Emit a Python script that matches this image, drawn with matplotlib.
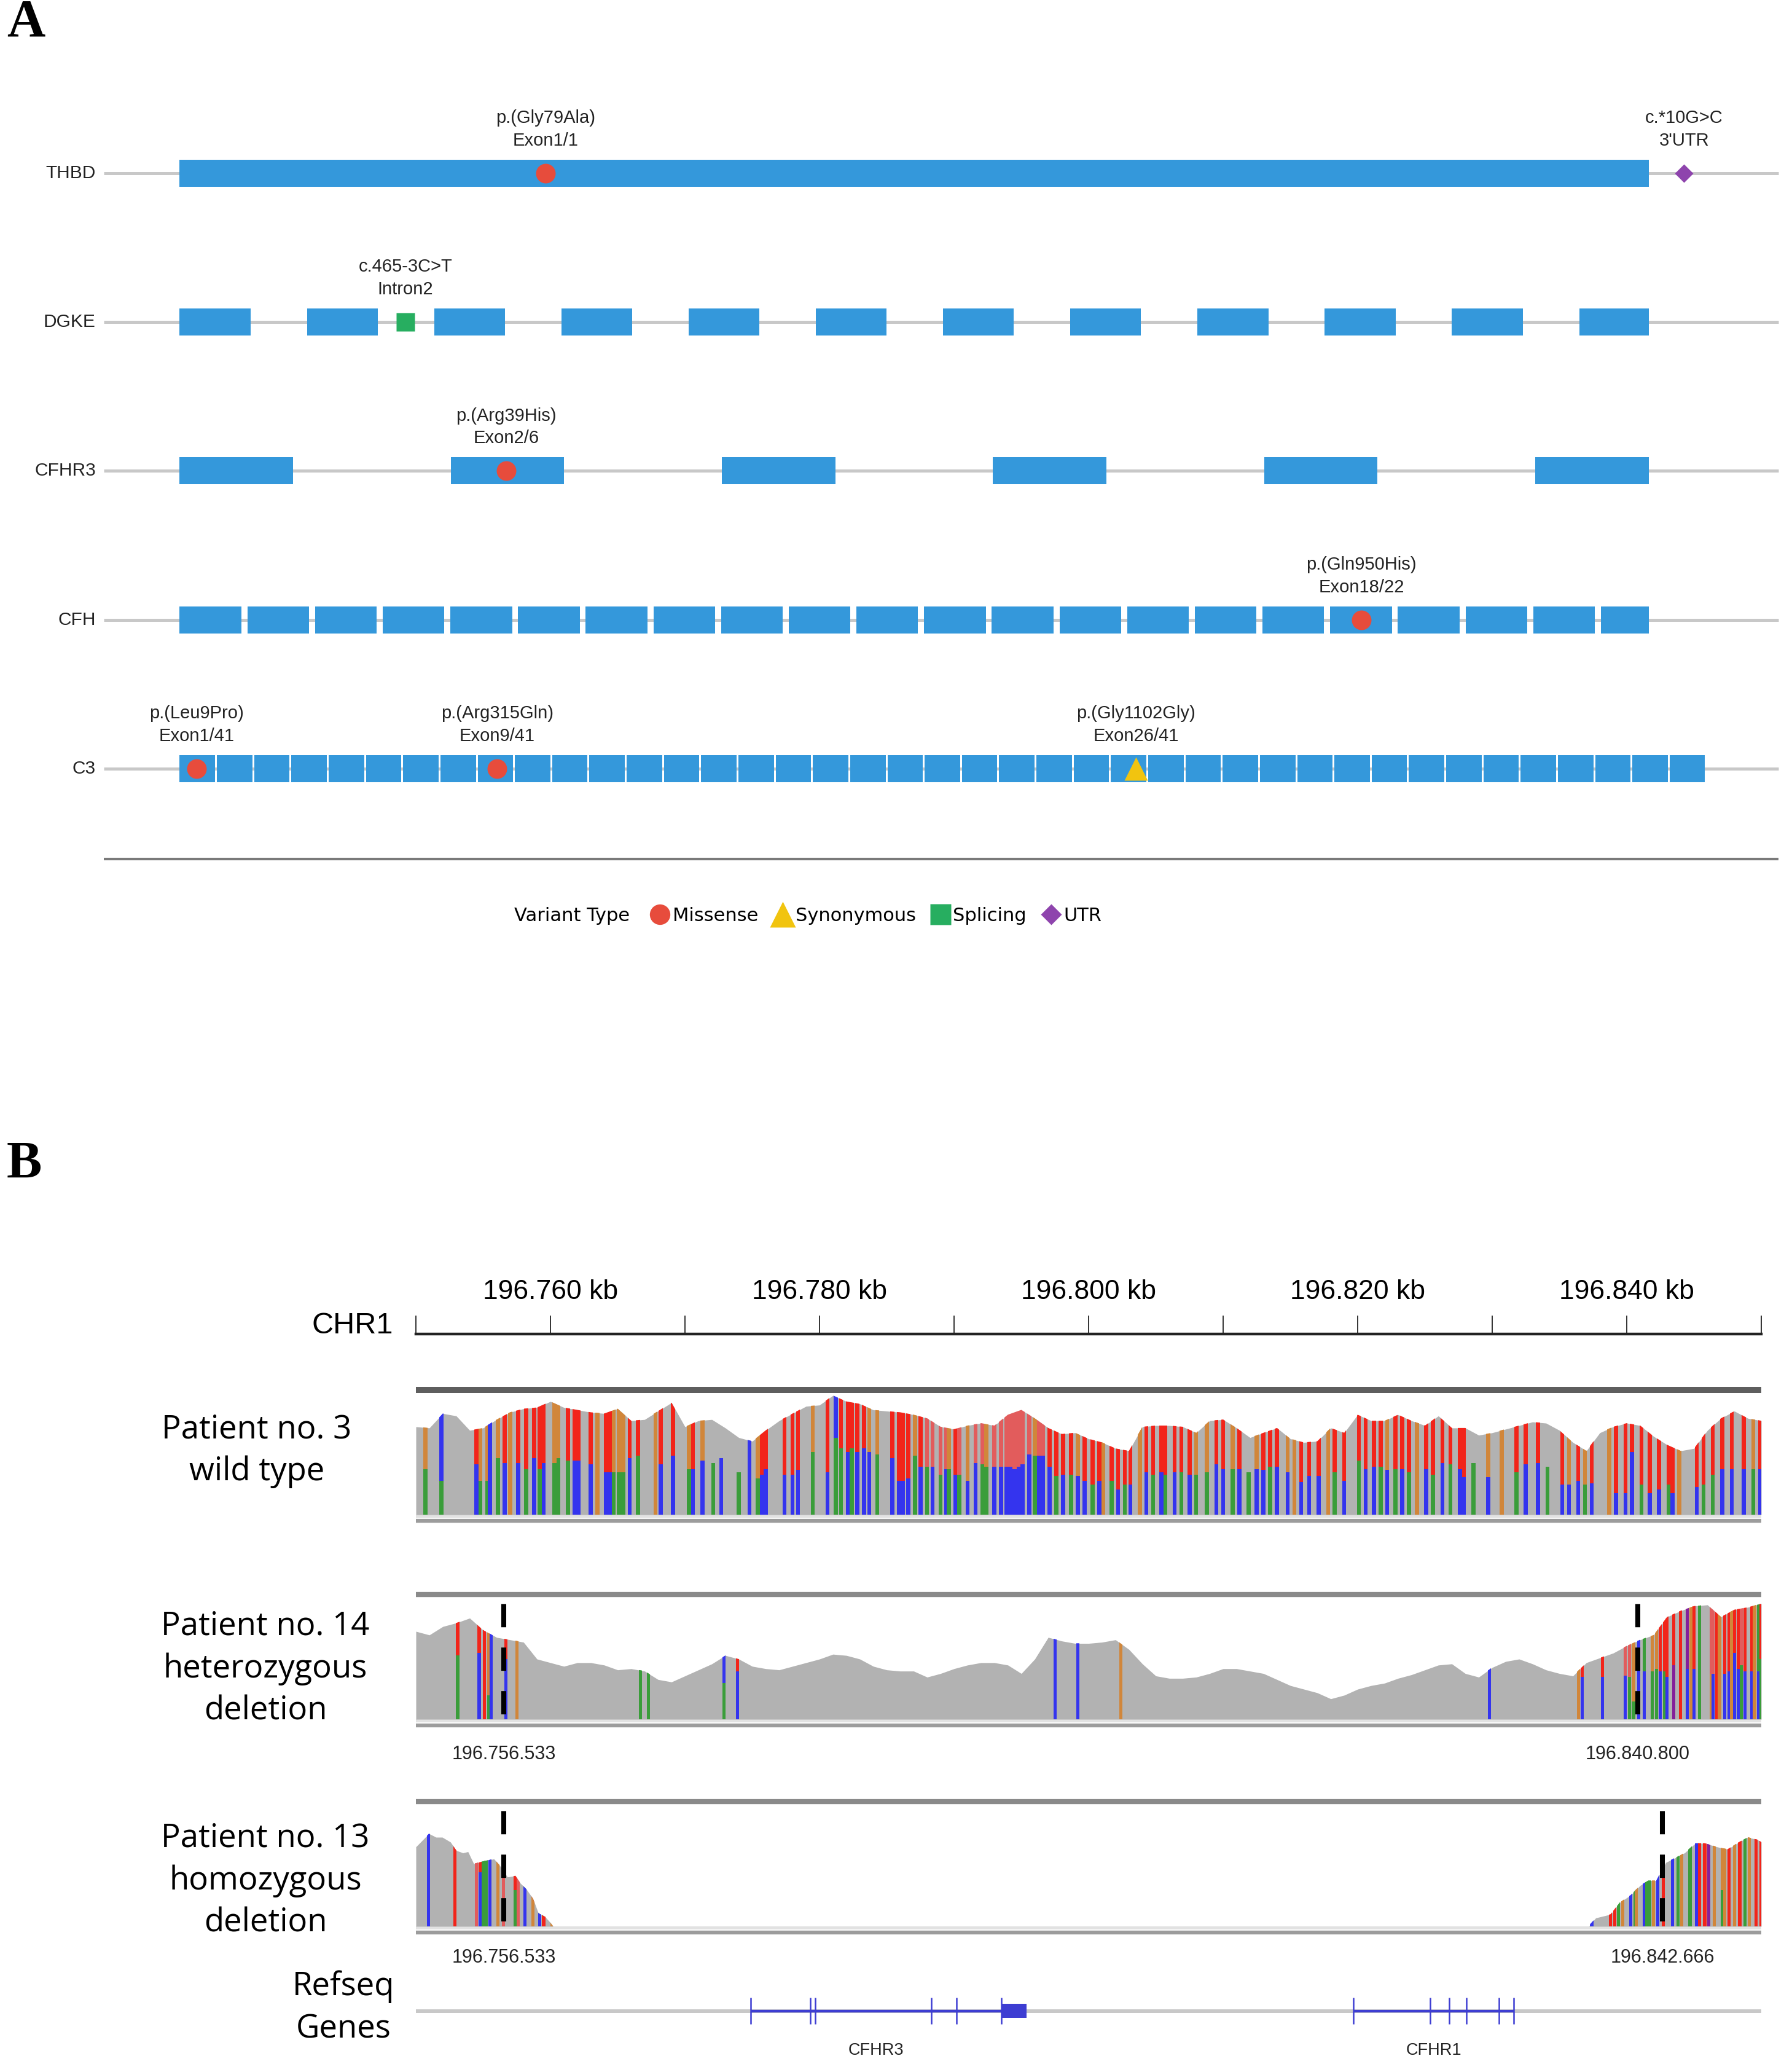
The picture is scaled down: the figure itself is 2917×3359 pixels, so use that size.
import numpy as np
import matplotlib
matplotlib.use("Agg")
import matplotlib.pyplot as plt
from matplotlib.lines import Line2D

W, H = 2917, 3359

# ---------------- panel A: gene schematics ----------------
genes = ["THBD", "DGKE", "CFHR3", "CFH", "C3"]
exon_counts = [1, 12, 6, 22, 41]
exon_pitch = [1120, 97.0, 206.7, 51.6, 28.4]
exon_len = [1120, 54, 86.5, 47, 27]
gene_len = [1120, 1120, 1120, 1120, 1163]

var_gene = ["THBD", "THBD", "DGKE", "CFHR3", "CFH", "C3", "C3", "C3"]
var_pos = [279, 1147, 172, 249, 901, 13, 242, 729]
var_type = ["Missense", "UTR", "Splicing", "Missense", "Missense",
            "Missense", "Missense", "Synonymous"]
var_label = ["p.(Gly79Ala)\nExon1/1", "c.*10G>C\n3'UTR", "c.465-3C>T\nIntron2",
             "p.(Arg39His)\nExon2/6", "p.(Gln950His)\nExon18/22",
             "p.(Leu9Pro)\nExon1/41", "p.(Arg315Gln)\nExon9/41",
             "p.(Gly1102Gly)\nExon26/41"]
legend_types = ["Missense", "Synonymous", "Splicing", "UTR"]

# ---------------- panel B: coverage tracks ----------------
START, END = 196750, 196850     # kb
axis_labels_kb = [196760, 196780, 196800, 196820, 196840]
axis_minor_kb = [196750, 196770, 196790, 196810, 196830, 196850]

wt_cov = [.73, .72, .84, .82, .70, .72, .79, .85, .88, .89,
          .94, .89, .87, .85, .84, .88, .78, .79, .86, .93,
          .73, .78, .79, .72, .64, .61, .70, .78, .84, .90,
          .91, .99, .94, .92, .87, .86, .85, .83, .80, .73,
          .71, .74, .76, .74, .83, .87, .80, .72, .67, .68,
          .63, .60, .55, .53, .73, .74, .74, .73, .68, .78,
          .79, .72, .64, .68, .72, .63, .60, .61, .72, .68,
          .83, .78, .78, .83, .78, .74, .82, .72, .72, .66,
          .68, .71, .74, .77, .76, .70, .60, .53, .68, .73,
          .76, .74, .65, .58, .53, .55, .70, .80, .86, .80, .78]

wt_var_kb = [0.7, 1.9, 4.5, 4.8, 5.3, 5.5, 6.1, 6.6, 7.0, 7.6,
             8.2, 8.8, 9.2, 9.5, 10.3, 10.6, 11.3, 11.8, 12.1, 13.0,
             13.5, 14.1, 14.4, 14.7, 15.1, 15.4, 15.9, 16.5, 17.8, 18.2,
             19.1, 20.3, 20.6, 21.3, 22.1, 22.7, 24.0, 24.8, 25.4, 25.7,
             26.0, 27.4, 28.0, 28.4, 29.5, 30.6, 31.2, 31.6, 32.1, 32.4,
             32.8, 33.3, 33.7, 34.3, 35.4, 35.9, 36.2, 36.6, 37.1, 37.5,
             38.0, 38.4, 39.0, 39.4, 39.6, 40.1, 40.4, 41.0, 41.6, 42.1,
             42.4, 43.0, 43.5, 43.9, 44.2, 44.5, 44.8, 45.1, 45.6, 46.0,
             46.3, 46.6,
             47.1, 47.6, 48.1, 48.7, 49.2, 49.7, 50.3, 50.8, 51.1, 51.7,
             52.2, 52.7, 53.1, 53.8, 54.3, 54.8, 55.4, 55.7, 56.4, 56.9,
             57.5, 58.0, 58.8, 59.5, 60.0, 60.7, 61.2, 61.9, 62.5, 63.0,
             63.5, 64.0, 64.8, 65.3, 65.8, 66.4, 67.1, 67.8, 68.3, 69.0,
             70.1, 70.6, 71.2, 71.7, 72.2, 72.8, 73.3, 73.8, 74.4, 75.1,
             75.6, 76.3, 76.9, 77.6, 77.9, 78.6, 79.7, 80.7, 81.8, 82.5,
             83.4, 84.1, 85.2, 85.7, 86.4, 86.9, 87.4, 88.7, 89.2, 89.9,
             90.4, 91.1, 91.7, 92.4, 93.1, 93.4, 93.9, 95.2, 95.7, 96.4,
             97.1, 97.8, 98.7, 99.4, 99.9]
wt_low = ("AACAACACGC" "ACACAAACCC" "GCCAAACAGC" "CACCACACAC" "CCCCACAACA"
          "CCCACCCCAC" "ACACACACCA" "ACCCCCCCCA" "CC"
          "CACACCACGA" "CACGCACACA" "CAACCACACC" "ACCGCCCGAC" "ACCACACAGC"
          "ACACCACGAC" "CACCCACGCC" "CACCACGCAA" "CCCAC")
wt_high = ("GCTGGCGTGT" "TTTTGGTTTT" "GTTGGGTTGT" "TGTGNNNCGT" "TTTTGTCTTT"
           "TTGGTTTTGT" "ttttGTtGtt" "GttttttttG" "tt"
           "TTTTGTTTGT" "TTTGTTTTTT" "TGGTTGTNGT" "TTGGTTTGTT" "TTTTGTTTGT"
           "TTTTTNGGTT" "TNTGTGTGTT" "TTTTTTGTTT" "TTTGT")
wt_split = [.38, .28, .42, .28, .28, 1.0, .47, .43, 1.0, .43,
            .38, .47, .38, .43, .43, .47, .45, .45, .45, .42,
            1.0, .35, .35, .35, .35, .35, .47, .49, 1.0, .42,
            .49, .38, .38, .45, .43, .47, .35, 1.0, .30, .33,
            .38, .33, .33, .37, .52, .35, .64, .55, .52, .55,
            .52, .55, .52, .50, .47, .28, .28, .30, .49, .40,
            .40, .40, .33, .38, .38, .33, .33, .28, .43, .42,
            .40, .40, .40, .40, .40, .38, .40, .42, .50, .49,
            .49, .49,
            .40, .32, .33, .33, .32, .28, .25, .28, 1.0, .28,
            .21, .25, .25, 1.0, .35, .33, .35, .33, .35, .35,
            .33, .33, .35, .42, .38, .38, .38, .35, .38, .37,
            .40, .40, .35, 1.0, .27, .32, .32, 1.0, .35, .28,
            .45, .38, .40, .40, .37, .38, .38, .35, 1.0, .38,
            .33, .43, .42, .38, .31, .43, .31, 1.0, .35, .42,
            .43, .40, .25, .25, .28, .25, .26, 1.0, .18, .18,
            .52, .25, .18, .21, .25, .18, 1.0, .23, .25, .33,
            .38, .38, .38, .38, .38]

p14_cov = [.73, .70, .77, .80, .84, .74, .68, .66, .64, .50,
           .47, .44, .47, .47, .45, .41, .42, .40, .33, .31,
           .36, .41, .46, .53, .50, .44, .42, .41, .44, .47,
           .50, .54, .53, .50, .44, .41, .40, .40, .35, .38,
           .42, .45, .47, .47, .45, .38, .50, .68, .65, .63,
           .63, .64, .66, .58, .46, .36, .34, .34, .35, .38,
           .42, .42, .40, .38, .33, .28, .25, .22, .17, .20,
           .25, .28, .30, .34, .37, .41, .45, .46, .38, .35,
           .43, .48, .50, .46, .41, .38, .36, .47, .51, .55,
           .61, .66, .70, .85, .90, .94, .95, .85, .91, .93, .96]
p14_var_kb = [3.1, 4.7, 5.1, 5.4, 5.6, 6.7, 7.5, 16.7, 17.3, 22.9,
              23.9, 47.5, 49.2, 52.4, 79.8, 86.4, 86.7, 88.2, 89.9, 90.2,
              90.5, 90.9, 91.3, 91.9, 92.2, 92.5, 92.8, 93.0, 93.5, 94.0,
              94.5, 94.8, 95.0, 95.4, 96.3, 96.4, 96.7, 96.9, 97.3, 97.6,
              97.8, 98.0, 98.3, 98.5, 98.8, 99.3, 99.5, 99.8, 100.0]
p14_low = "ACTACCGAAACCCGCGCCCAACCAACACPTCGCAGCTGCCGCCACCGCA"
p14_high = "TTTGCTGAACTCCGCGTTttGCAGGTTTTTPGTAttTGTTGTTtTTGAT"
p14_split = [.53, .55, 1.0, .20, 1.0, .50, 1.0, 1.0, 1.0, .30,
             .40, 1.0, 1.0, 1.0, 1.0, 1.0, .35, .35, .36, .35,
             .15, 1.0, .40, .40, .42, .40, .40, .35, .45, 1.0,
             .42, 1.0, .42, 1.0, .38, .38, 1.0, 1.0, .38, .40,
             1.0, .55, .42, .45, .40, .40, 1.0, .40, .50]

p13_cov_kb = [0, 0.44, 0.97, 1.5, 1.96, 2.57, 3.0, 3.5, 3.87, 4.3, 5.0, 5.8,
              6.2, 6.8, 7.4, 7.75, 8.2, 8.7, 9.1, 9.6, 10.0, 10.2,
              87.2, 87.3, 87.7, 88.8, 89.5, 90.3, 91.0, 91.6, 92.2, 92.9,
              93.8, 94.3, 95.1, 95.8, 96.7, 97.5, 98.2, 99.0, 99.7, 100.0]
p13_cov = [.66, .71, .77, .74, .74, .70, .63, .61, .62, .52, .54, .56,
           .51, .41, .42, .36, .31, .23, .11, .08, .03, 0.0,
           0.0, .02, .07, .10, .20, .26, .34, .38, .38, .53,
           .58, .61, .69, .69, .66, .64, .69, .74, .72, .70]
p13_var_kb = [0.94, 2.9, 4.5, 4.8, 5.0, 5.2, 5.5, 6.1, 6.5, 7.37,
              7.6, 8.1, 8.7, 9.2, 9.5, 10.1, 87.4, 88.8, 89.1, 89.4,
              89.7, 90.3, 90.6, 90.7, 91.3, 91.5, 91.7, 92.0, 92.3, 92.7,
              93.4, 93.8, 94.1, 94.7, 95.2, 95.4, 95.8, 96.1, 96.5, 97.1,
              97.3, 97.6, 98.0, 98.4, 98.8, 99.1, 99.6, 100.0]
p13_low = "CTtCAACGtAtCGCTGCTTAGCAGCAAGCTCAGACTTPGAGTGTAGTT"
p13_high = "CTtTAACGtTtATAAGCTTAGCAGCAAGCTCAGACTTPGGGTGTAGTT"
p13_split = [.33, 1, 1, .45, 1, 1, 1, 1, 1, .30,
             1, .50, .50, .50, .50, 1, 1, 1, 1, 1,
             1, 1, 1, 1, 1, 1, 1, 1, 1, 1,
             1, 1, 1, 1, 1, 1, 1, 1, 1, .30,
             1, 1, 1, 1, 1, 1, 1, 1]

p14_breaks = [196756.533, 196840.800]
p13_breaks = [196756.533, 196842.666]

cfhr3_exons = [196774.9, 196779.3, 196779.7, 196788.3, 196790.2, 196793.5]
cfhr3_utr = (196793.5, 196795.4)
cfhr1_exons = [196819.7, 196825.4, 196826.8, 196828.1, 196830.5, 196831.6]

# ---------------- styles ----------------
SANS = ["Liberation Sans", "DejaVu Sans"]
EXON_BLUE = "#3498db"
VSTYLE = {"Missense": ("o", "#e74c3c", 23),
          "Synonymous": ("^", "#f1c40f", 28),
          "Splicing": ("s", "#27ae60", 21),
          "UTR": ("D", "#8e44ad", 15)}
BASE = {"A": "#3a9d3a", "C": "#3434ee", "G": "#d1863a", "T": "#f2241a",
        "t": "#e25c5c", "P": "#85209a"}
COV_GREY = "#b2b2b2"


def px_rect(x0, y0, x1, y1):
    return [x0 / W, 1 - y1 / H, (x1 - x0) / W, (y1 - y0) / H]


fig = plt.figure(figsize=(W / 100, H / 100), dpi=100)
fig.patch.set_facecolor("white")

# ======================= Panel A =======================
ROW0, ROWSTEP = 282, 242.25
ax_a = fig.add_axes(px_rect(0, 0, W, 1600))
ax_a.set_xlim(-137, W / 2.135 - 137)
ax_a.set_ylim((1600 - ROW0) / ROWSTEP, -ROW0 / ROWSTEP)
ax_a.axis("off")

exon_h = 44 / ROWSTEP
for i, g in enumerate(genes):
    ax_a.hlines(i, -58, 1219, color="#c8c8c8", lw=3.6, zorder=1)
    bars = []
    for k in range(exon_counts[i]):
        s = k * exon_pitch[i]
        bars.append((s, min(exon_len[i], gene_len[i] - s)))
    ax_a.broken_barh(bars, (i - exon_h / 2, exon_h), facecolor=EXON_BLUE,
                     edgecolor="none", zorder=2)
    ax_a.text(-64, i, g, ha="right", va="center", fontsize=21.5,
              family=SANS, color="#222222")

for g, x, t, lab in zip(var_gene, var_pos, var_type, var_label):
    row = genes.index(g)
    m, c, ms = VSTYLE[t]
    ax_a.plot(x, row, marker=m, color=c, ms=ms, mec="none", zorder=5)
    ax_a.annotate(lab, xy=(x, row), xytext=(0, 51.5), textcoords="offset points",
                  ha="center", va="center", fontsize=21, family=SANS,
                  linespacing=1.4, color="#222222")

ax_a.hlines((1398 - ROW0) / ROWSTEP, -58, 1219, color="#7a7a7a", lw=3)

fig.text(837 / W, 1 - 1490 / H, "Variant Type", ha="left", va="center",
         fontsize=22, family="DejaVu Sans")
leg_sizes = {"Missense": 24, "Synonymous": 30, "Splicing": 24, "UTR": 17}
handles = [Line2D([], [], ls="none", marker=VSTYLE[t][0], color=VSTYLE[t][1],
                  mec="none", ms=leg_sizes[t]) for t in legend_types]
fig.legend(handles, legend_types, loc="center left",
           bbox_to_anchor=(1059 / W, 1 - 1490 / H), ncol=4, frameon=False,
           borderpad=0, borderaxespad=0, handlelength=1.0, handletextpad=0.18,
           columnspacing=0.8, prop={"family": "DejaVu Sans", "size": 22})

fig.text(11 / W, 1 - 38 / H, "A", fontsize=62, fontweight="bold",
         family=["Liberation Serif", "DejaVu Serif"], va="center", ha="left")
fig.text(11 / W, 1 - 1896 / H, "B", fontsize=62, fontweight="bold",
         family=["Liberation Serif", "DejaVu Serif"], va="center", ha="left")

# ======================= Panel B =======================
X0, X1 = 677, 2867
UNIT = 196

# genomic axis
ax_ax = fig.add_axes(px_rect(X0, 2141, X1, 2171))
ax_ax.set_xlim(START, END)
ax_ax.set_ylim(0, 1)
for s in ["left", "right", "top"]:
    ax_ax.spines[s].set_visible(False)
ax_ax.spines["bottom"].set_linewidth(3.2)
ax_ax.spines["bottom"].set_color("#222222")
ax_ax.set_yticks([])
ax_ax.set_xticks(axis_labels_kb, labels=[f"{v / 1000:.3f} kb" for v in axis_labels_kb],
                 fontfamily=SANS, fontsize=32)
ax_ax.set_xticks(axis_minor_kb, minor=True)
ax_ax.tick_params(axis="x", which="both", direction="in", length=21.6, width=1.4,
                  color="#333333", bottom=True, top=False, labelbottom=False,
                  labeltop=True, pad=13)
ax_ax.patch.set_alpha(0)
fig.text(640 / W, 1 - 2158 / H, "CHR1", ha="right", va="center", fontsize=35,
         family=SANS)


def draw_track(base, cov_kb, cov, var_kb, low, split, high, width,
               bar_col, bar_lw, breaks=None, label_dy=None):
    ax = fig.add_axes(px_rect(X0, base - 1.1 * UNIT, X1, base + 0.1 * UNIT))
    ax.set_xlim(START, END)
    ax.set_ylim(-0.1, 1.1)
    ax.axis("off")
    poly = ax.fill_between(START + np.asarray(cov_kb, float), cov,
                           color=COV_GREY, lw=0, zorder=2)
    clip = poly.get_paths()[0]
    for kb, lo, sp, hi in zip(var_kb, low, split, high):
        x = START + kb
        parts = []
        if hi != "N":
            parts += list(ax.bar(x, 1.0, width, color=BASE[hi], lw=0, zorder=3))
        parts += list(ax.bar(x, sp, width, color=BASE[lo], lw=0, zorder=3))
        for p in parts:
            p.set_clip_path(clip, ax.transData)
    ax.axhline(1.035, color=bar_col, lw=bar_lw, zorder=4)
    ax.axhspan(-0.028, 0, color="#e2e2e2", lw=0, zorder=1)
    ax.axhline(-0.05, color="#9c9c9c", lw=4.5, zorder=1)
    if breaks:
        for b in breaks:
            ax.vlines(b, 0.04, 0.97, color="black", lw=5.8,
                      linestyles=(0, (4.7, 4.1)), zorder=6)
            bp = f"{int(round(b * 1000)):,}".replace(",", ".")
            ax.text(b, label_dy, bp, ha="center", va="center", fontsize=22,
                    family=SANS, color="#222222", clip_on=False)
    return ax


grid = np.arange(len(wt_cov))
draw_track(2465, grid, wt_cov, wt_var_kb, wt_low, wt_split, wt_high,
           0.30, "#5e5e5e", 7.2)
draw_track(2798, grid, p14_cov, p14_var_kb, p14_low, p14_split, p14_high,
           0.24, "#8a8a8a", 6.0, p14_breaks, -0.29)
draw_track(3135, p13_cov_kb, p13_cov, p13_var_kb, p13_low, p13_split, p13_high,
           0.24, "#8a8a8a", 6.0, p13_breaks, -0.26)

# RefSeq genes
ax_g = fig.add_axes(px_rect(X0, 3240, X1, 3305))
ax_g.set_xlim(START, END)
ax_g.set_ylim(-1, 1)
ax_g.axis("off")
ax_g.axhline(0, color="#c8c8c8", lw=4.3, zorder=1)
GENE_BLUE = "#3d3dd2"
for name, ex in [("CFHR3", cfhr3_exons), ("CFHR1", cfhr1_exons)]:
    ax_g.hlines(0, ex[0], ex[-1], color=GENE_BLUE, lw=3, zorder=2)
    ax_g.vlines(ex, -0.66, 0.66, color=GENE_BLUE, lw=1.8, zorder=2)
    ax_g.text((ex[0] + ex[-1]) / 2, -1.98, name, ha="center", va="center",
              fontsize=19.5, family=SANS, color="#222222", clip_on=False)
ax_g.broken_barh([(cfhr3_utr[0], cfhr3_utr[1] - cfhr3_utr[0])], (-0.35, 0.7),
                 facecolor=GENE_BLUE, edgecolor="none", zorder=3)
ax_g.hlines(0, cfhr3_exons[0], cfhr3_utr[1], color=GENE_BLUE, lw=3, zorder=2)

# left-hand track labels
OPEN = ["Open Sans", "DejaVu Sans"]
for x, y, txt in [(418, 2361, "Patient no. 3\nwild type"),
                  (432, 2716, "Patient no. 14\nheterozygous\ndeletion"),
                  (432, 3061, "Patient no. 13\nhomozygous\ndeletion"),
                  (559, 3268, "Refseq\nGenes")]:
    fig.text(x / W, 1 - y / H, txt, ha="center", va="center", fontsize=38,
             family=OPEN, linespacing=1.38)

fig.savefig("out.png", dpi=100, facecolor="white")
